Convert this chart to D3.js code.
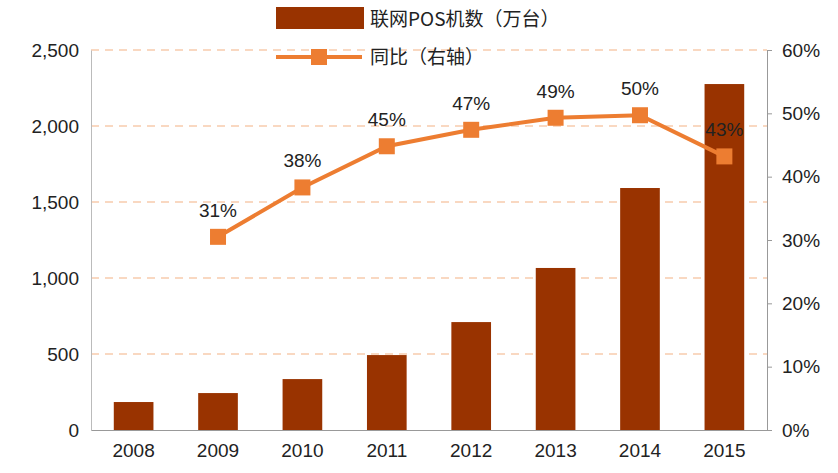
<!DOCTYPE html>
<html><head><meta charset="utf-8">
<script src="https://cdn.jsdelivr.net/npm/d3@7"></script>
<style>body{margin:0;background:#fff}text{font-family:Arial,"Liberation Sans",sans-serif}text.cjk{font-family:"Noto Sans CJK SC",sans-serif}</style>
</head><body>
<svg id="chart" width="838" height="473"></svg>
<script>
const years = ["2008","2009","2010","2011","2012","2013","2014","2015"];
const posCount = [184, 243, 335, 493, 710, 1066, 1592, 2276];
const yoy = [null, 30.5, 38.3, 44.8, 47.4, 49.3, 49.7, 43.2];
const yoyLabels = [null, "31%", "38%", "45%", "47%", "49%", "50%", "43%"];
const leftTicks = [0, 500, 1000, 1500, 2000, 2500];
const rightTicks = [0, 10, 20, 30, 40, 50, 60];

const svg = d3.select("#chart");
const x = d3.scaleBand().domain(years).range([91, 767]).paddingInner(0.53).paddingOuter(0.27);
const yL = d3.scaleLinear().domain([0, 2500]).range([430, 50]);
const yR = d3.scaleLinear().domain([0, 60]).range([430, 50]);

// 网格线
svg.append("g").selectAll("line").data(leftTicks.slice(1)).enter().append("line")
    .attr("x1", 91).attr("x2", 767).attr("y1", d => yL(d)).attr("y2", d => yL(d))
    .attr("stroke", "#F8CBAD").attr("stroke-width", 1.5).attr("stroke-dasharray", "8,6");

// 柱子
svg.append("g").selectAll("rect").data(posCount).enter().append("rect")
    .attr("x", (d, i) => x(years[i])).attr("width", x.bandwidth())
    .attr("y", d => yL(d)).attr("height", d => 430 - yL(d)).attr("fill", "#993300");

// 坐标轴
const fmt = d3.format(",");
const ga = svg.append("g").attr("transform", "translate(91,0)")
    .call(d3.axisLeft(yL).tickValues(leftTicks).tickFormat(fmt).tickSize(0).tickPadding(12));
const gr = svg.append("g").attr("transform", "translate(767,0)")
    .call(d3.axisRight(yR).tickValues(rightTicks).tickFormat(d => d + "%").tickSize(5).tickPadding(10));
const gb = svg.append("g").attr("transform", "translate(0,430)")
    .call(d3.axisBottom(x).tickSize(0).tickPadding(14));
[ga, gr, gb].forEach(g => {
    g.attr("font-family", null);
    g.selectAll("path,line").attr("stroke", "#999");
    g.selectAll("text").attr("font-size", 19).attr("fill", "#222");
});
ga.select("path").attr("stroke", "#bbb");

// 折线
const pts = yoy.map((v, i) => ({v, i})).filter(d => d.v !== null);
const cx = d => x(years[d.i]) + x.bandwidth() / 2;
svg.append("path").datum(pts)
    .attr("d", d3.line().x(cx).y(d => yR(d.v)))
    .attr("fill", "none").attr("stroke", "#ED7D31").attr("stroke-width", 4);
svg.append("g").selectAll("rect").data(pts).enter().append("rect")
    .attr("x", d => cx(d) - 8).attr("y", d => yR(d.v) - 8).attr("width", 16).attr("height", 16)
    .attr("fill", "#ED7D31");
svg.append("g").selectAll("text").data(pts).enter().append("text")
    .attr("x", cx).attr("y", d => yR(d.v) - 20).attr("text-anchor", "middle")
    .attr("font-size", 19).attr("fill", "#222")
    .text(d => yoyLabels[d.i]);

// 图例
const lg = svg.append("g");
lg.append("rect").attr("x", 276).attr("y", 7).attr("width", 88).attr("height", 22).attr("fill", "#993300");
lg.append("text").attr("class", "cjk").attr("x", 370).attr("y", 26).attr("font-size", 19).attr("fill", "#222").text("联网POS机数（万台）");
lg.append("line").attr("x1", 276).attr("x2", 362).attr("y1", 57).attr("y2", 57).attr("stroke", "#ED7D31").attr("stroke-width", 4);
lg.append("rect").attr("x", 311).attr("y", 49).attr("width", 16).attr("height", 16).attr("fill", "#ED7D31");
lg.append("text").attr("class", "cjk").attr("x", 370).attr("y", 64).attr("font-size", 19).attr("fill", "#222").text("同比（右轴）");
</script>
</body></html>
